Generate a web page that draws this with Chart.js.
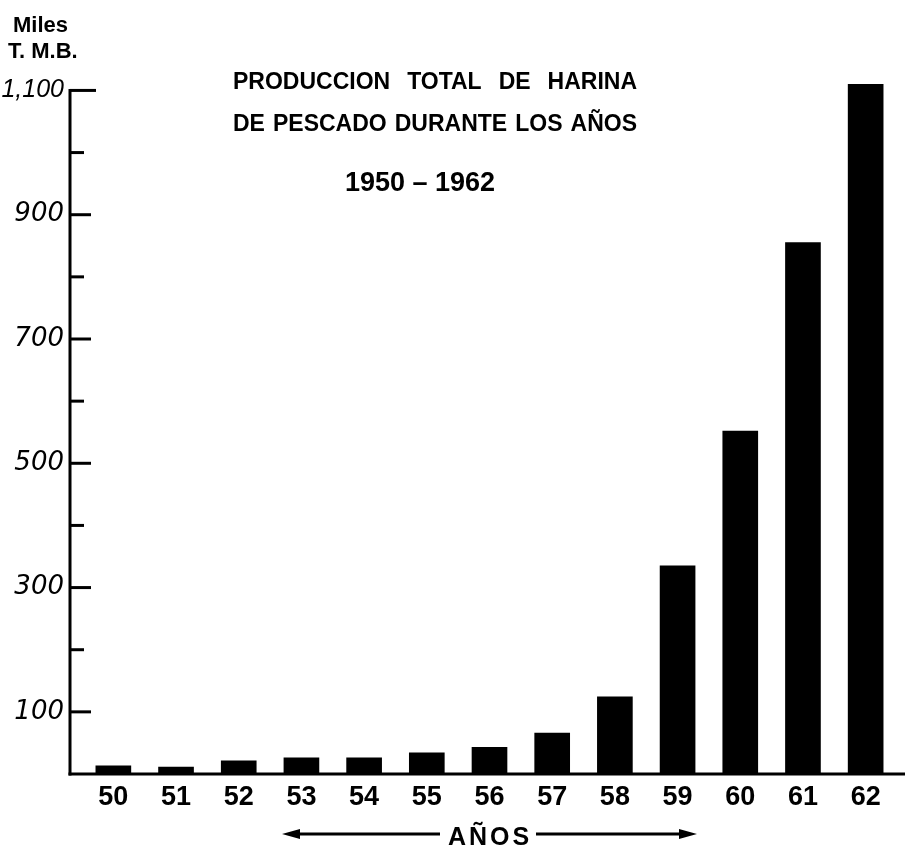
<!DOCTYPE html>
<html><head><meta charset="utf-8">
<script src="https://cdn.jsdelivr.net/npm/chart.js@4.4.1/dist/chart.umd.min.js"></script>
<style>html,body{margin:0;padding:0;background:#fff}#wrap{width:905px;height:847px;position:relative}</style>
</head><body><div id="wrap"><canvas id="c" width="905" height="847"></canvas></div>
<script>
// ---- data ----
const yearLabels = ['50','51','52','53','54','55','56','57','58','59','60','61','62'];
const production = [13,11,21,26,26,34,43,66,124,335,552,855,1110];
const yTickValues = [0,100,200,300,400,500,600,700,800,900,1000,1100];
const yTickLabels = {100:'100',300:'300',500:'500',700:'700',900:'900',1100:'1,100'};
const titleLines = ['PRODUCCION TOTAL DE HARINA','DE PESCADO DURANTE LOS AÑOS','1950 – 1962'];
const unitLines = ['Miles','T. M.B.'];
const xTitle = 'AÑOS';

const INK = '#000';
const AXIS_GAP = 12; // y-axis line sits this far left of the first category slot

const decor = {
  id: 'decor',
  afterDatasetsDraw(chart) {
    const ctx = chart.ctx, ys = chart.scales.y;
    const ax = chart.chartArea.left - AXIS_GAP;
    const y0 = ys.getPixelForValue(0);
    const yTop = ys.getPixelForValue(yTickValues[yTickValues.length - 1]);
    ctx.save();
    ctx.strokeStyle = INK; ctx.fillStyle = INK;
    ctx.lineWidth = 3; ctx.lineCap = 'butt';
    ctx.beginPath(); ctx.moveTo(ax, y0 + 1.5); ctx.lineTo(ax, yTop - 1.5); ctx.stroke();
    ctx.beginPath(); ctx.moveTo(ax - 1.5, y0); ctx.lineTo(chart.width, y0); ctx.stroke();
    yTickValues.forEach(v => {
      if (v === 0) return;
      const py = ys.getPixelForValue(v);
      let len = yTickLabels[v] ? 21 : 14;
      if (v === yTickValues[yTickValues.length - 1]) len = 26;
      ctx.beginPath(); ctx.moveTo(ax, py); ctx.lineTo(ax + len, py); ctx.stroke();
    });
    ctx.textBaseline = 'alphabetic';
    ctx.font = 'bold 23px "Liberation Sans", Arial, sans-serif';
    const justify = (text, x0, x1, by) => {
      const words = text.split(' ');
      const widths = words.map(w => ctx.measureText(w).width);
      const total = widths.reduce((a, b) => a + b, 0);
      const gap = (x1 - x0 - total) / (words.length - 1);
      let x = x0;
      ctx.textAlign = 'left';
      words.forEach((w, i) => { ctx.fillText(w, x, by); x += widths[i] + gap; });
    };
    justify(titleLines[0], 233, 637, 89);
    justify(titleLines[1], 233, 637, 131);
    ctx.font = 'bold 27px "Liberation Sans", Arial, sans-serif';
    ctx.textAlign = 'center';
    ctx.fillText(titleLines[2], 420, 191);
    ctx.font = 'bold 22px "Liberation Sans", Arial, sans-serif';
    ctx.textAlign = 'left';
    ctx.fillText(unitLines[0], 13, 32);
    ctx.fillText(unitLines[1], 8, 58);
    ctx.font = 'bold 25px "Liberation Sans", Arial, sans-serif';
    ctx.textAlign = 'center';
    if ('letterSpacing' in ctx) ctx.letterSpacing = '3px';
    ctx.fillText(xTitle, 490, 845);
    if ('letterSpacing' in ctx) ctx.letterSpacing = '0px';
    const ay = 834;
    ctx.lineWidth = 3;
    ctx.beginPath(); ctx.moveTo(295, ay); ctx.lineTo(440, ay); ctx.stroke();
    ctx.beginPath(); ctx.moveTo(536, ay); ctx.lineTo(684, ay); ctx.stroke();
    ctx.beginPath(); ctx.moveTo(282, ay); ctx.lineTo(300, ay - 5); ctx.lineTo(300, ay + 5); ctx.closePath(); ctx.fill();
    ctx.beginPath(); ctx.moveTo(697, ay); ctx.lineTo(679, ay - 5); ctx.lineTo(679, ay + 5); ctx.closePath(); ctx.fill();
    ctx.restore();
  }
};

new Chart(document.getElementById('c'), {
  type: 'bar',
  data: {
    labels: yearLabels,
    datasets: [{
      data: production,
      backgroundColor: INK,
      borderWidth: 0,
      barThickness: 35
    }]
  },
  options: {
    responsive: false,
    animation: false,
    devicePixelRatio: 1,
    layout: { padding: { top: 78, right: 8, bottom: 0, left: 0 } },
    plugins: { legend: { display: false }, tooltip: { enabled: false }, title: { display: false } },
    scales: {
      x: {
        type: 'category',
        offset: true,
        grid: { display: false, drawTicks: false },
        border: { display: false },
        afterFit: s => { s.height = 73; s.paddingLeft = 0; s.paddingRight = 0; },
        ticks: {
          autoSkip: false, maxRotation: 0, padding: 7, color: INK,
          font: { family: '"Liberation Sans", Arial, sans-serif', size: 27, weight: 'bold' }
        }
      },
      y: {
        type: 'linear',
        min: 0, max: 1120,
        grid: { display: false, drawTicks: false },
        border: { display: false },
        afterBuildTicks: s => { s.ticks = yTickValues.map(v => ({ value: v })); },
        afterFit: s => { s.width = 82; s.paddingTop = 0; s.paddingBottom = 0; },
        ticks: {
          autoSkip: false, padding: 18, color: INK,
          font: c => (c.tick && c.tick.value === 1100)
            ? { family: '"Liberation Sans", Arial, sans-serif', style: 'italic', size: 25 }
            : { family: '"DejaVu Sans", sans-serif', style: 'italic', size: 26 },
          callback: v => yTickLabels[v] || ''
        }
      }
    }
  },
  plugins: [decor]
});
</script>
</body></html>
